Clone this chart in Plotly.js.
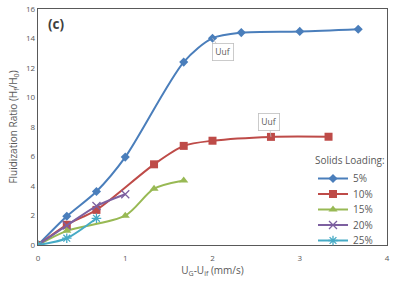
<!DOCTYPE html>
<html>
<head>
<meta charset="utf-8">
<script src="https://cdn.plot.ly/plotly-3.0.1.min.js"></script>
<style>
  html, body { margin: 0; padding: 0; background: #fff; }
  #chart { width: 398px; height: 283px; }
</style>
</head>
<body>
<div id="chart"></div>
<script>
// Excess gas velocity (mm/s) and fluidization ratio for each solids loading
const seriesNames = ['5%', '10%', '15%', '20%', '25%'];

const x5  = [0, 0.33, 0.67, 1.0, 1.67, 2.0, 2.33, 3.0, 3.67];
const y5  = [0, 1.95, 3.63, 5.96, 12.4, 14.02, 14.4, 14.48, 14.63];

const x10 = [0, 0.33, 0.67, 1.33, 1.67, 2.0, 2.67, 3.33];
const y10 = [0, 1.37, 2.38, 5.47, 6.72, 7.07, 7.33, 7.34];

const x15 = [0, 0.33, 1.0, 1.33, 1.67];
const y15 = [0, 0.96, 1.99, 3.82, 4.38];

const x20 = [0, 0.33, 0.67, 1.0];
const y20 = [0, 1.32, 2.64, 3.44];

const x25 = [0, 0.33, 0.67];
const y25 = [0, 0.46, 1.81];

// Minimum fluidization points flagged with callouts
const ufX = [2.0, 2.67];
const ufY = [14.02, 7.33];
const ufLabel = 'Uuf';

const colors = ['#4A7EBB', '#BE4B48', '#98B954', '#7D60A0', '#46AAC5'];
const symbols = ['diamond', 'square', 'triangle-up', 'x-thin-open', 'asterisk-open'];
const sizes = [7, 8, 8, 8, 8];

const xs = [x5, x10, x15, x20, x25];
const ys = [y5, y10, y15, y20, y25];

const traces = seriesNames.map((name, i) => ({
  type: 'scatter',
  mode: 'lines+markers',
  name: name,
  x: xs[i],
  y: ys[i],
  line: { color: colors[i], width: 2, shape: 'spline', smoothing: 0.8 },
  marker: {
    symbol: symbols[i],
    size: sizes[i],
    color: colors[i],
    line: { color: colors[i], width: (i >= 3) ? 1.3 : 0 }
  }
}));

const fontFam = 'Open Sans, Liberation Sans, Arial, sans-serif';
const grey = '#595959';

const calloutStyle = {
  xref: 'x', yref: 'y', showarrow: true, arrowhead: 0, arrowwidth: 0.8,
  arrowcolor: '#BFBFBF', bgcolor: '#fff', bordercolor: '#BFBFBF',
  borderwidth: 0.8, borderpad: 2.5,
  font: { family: fontFam, size: 8.5, color: grey }
};

const annotations = [
  {
    x: 0.022, y: 0.985, xref: 'paper', yref: 'paper',
    xanchor: 'left', yanchor: 'top',
    text: '<b>(c)</b>', showarrow: false,
    font: { family: fontFam, size: 13.5, color: '#404040' }
  },
  Object.assign({ x: ufX[0], y: ufY[0], text: ufLabel, ax: 10, ay: 14 }, calloutStyle),
  Object.assign({ x: ufX[1], y: ufY[1], text: ufLabel, ax: -2, ay: -15 }, calloutStyle)
];

const layout = {
  width: 398,
  height: 283,
  margin: { l: 38, r: 11, t: 9, b: 38 },
  paper_bgcolor: '#fff',
  plot_bgcolor: '#fff',
  font: { family: fontFam, color: grey },
  showlegend: true,
  legend: {
    x: 1, y: 0, xanchor: 'right', yanchor: 'bottom',
    xref: 'paper', yref: 'paper',
    bgcolor: 'rgba(255,255,255,0)',
    font: { family: fontFam, size: 10, color: grey },
    title: { text: 'Solids Loading:', font: { family: fontFam, size: 10, color: grey } },
    itemwidth: 30,
    tracegroupgap: 0
  },
  xaxis: {
    range: [0, 4], dtick: 1, tick0: 0,
    showgrid: false, zeroline: false,
    showline: true, linecolor: '#595959', linewidth: 1.2, mirror: true,
    ticks: 'outside', ticklen: 5, tickcolor: 'rgba(0,0,0,0)',
    tickfont: { family: fontFam, size: 8, color: grey },
    title: {
      text: 'U<sub>G</sub>-U<sub>if</sub> (mm/s)',
      font: { family: fontFam, size: 10, color: grey },
      standoff: 4
    }
  },
  yaxis: {
    range: [0, 16], dtick: 2, tick0: 0,
    showgrid: false, zeroline: false,
    showline: true, linecolor: '#595959', linewidth: 1.2, mirror: true,
    ticks: '', tickfont: { family: fontFam, size: 8, color: grey },
    title: {
      text: 'Fluidization Ratio (H<sub>f</sub>/H<sub>0</sub>)',
      font: { family: fontFam, size: 10, color: grey },
      standoff: 6
    }
  },
  annotations: annotations
};

// Tighten the legend rows to a compact spacing and keep the block
// close to the bottom edge of the plot area.
const legendRowGap = 15.5;
const legendExtraDrop = 10;

function shiftY(el, dy) {
  const t = el.getAttribute('transform') || '';
  const m = /translate\(\s*([-\d.e]+)[ ,]+([-\d.e]+)\s*\)/.exec(t);
  const x = m ? parseFloat(m[1]) : 0;
  const y = m ? parseFloat(m[2]) : 0;
  el.setAttribute('transform', t.replace(/translate\([^)]*\)/, '') + ' translate(' + x + ',' + (y + dy) + ')');
}

Plotly.newPlot('chart', traces, layout, { displayModeBar: false, staticPlot: true }).then(gd => {
  const items = Array.from(gd.querySelectorAll('.legend .traces'));
  if (items.length < 2) return;
  const y0 = items[0].getBoundingClientRect().top;
  const lastBefore = items[items.length - 1].getBoundingClientRect().top;
  items.forEach((el, i) => {
    const cur = el.getBoundingClientRect().top;
    shiftY(el, (y0 + i * legendRowGap) - cur);
  });
  // push everything down by the space saved at the bottom
  const saved = lastBefore - (y0 + (items.length - 1) * legendRowGap);
  const leg = gd.querySelector('.legend');
  if (leg) shiftY(leg, saved + legendExtraDrop);
  const title = gd.querySelector('.legend .legendtitletext');
  if (title) {
    const tb = title.getBoundingClientRect();
    const firstTop = items[0].getBoundingClientRect().top;
    title.setAttribute('y', (parseFloat(title.getAttribute('y') || 0) + (firstTop - 4 - tb.bottom) + 2).toString());
  }
});
</script>
</body>
</html>
